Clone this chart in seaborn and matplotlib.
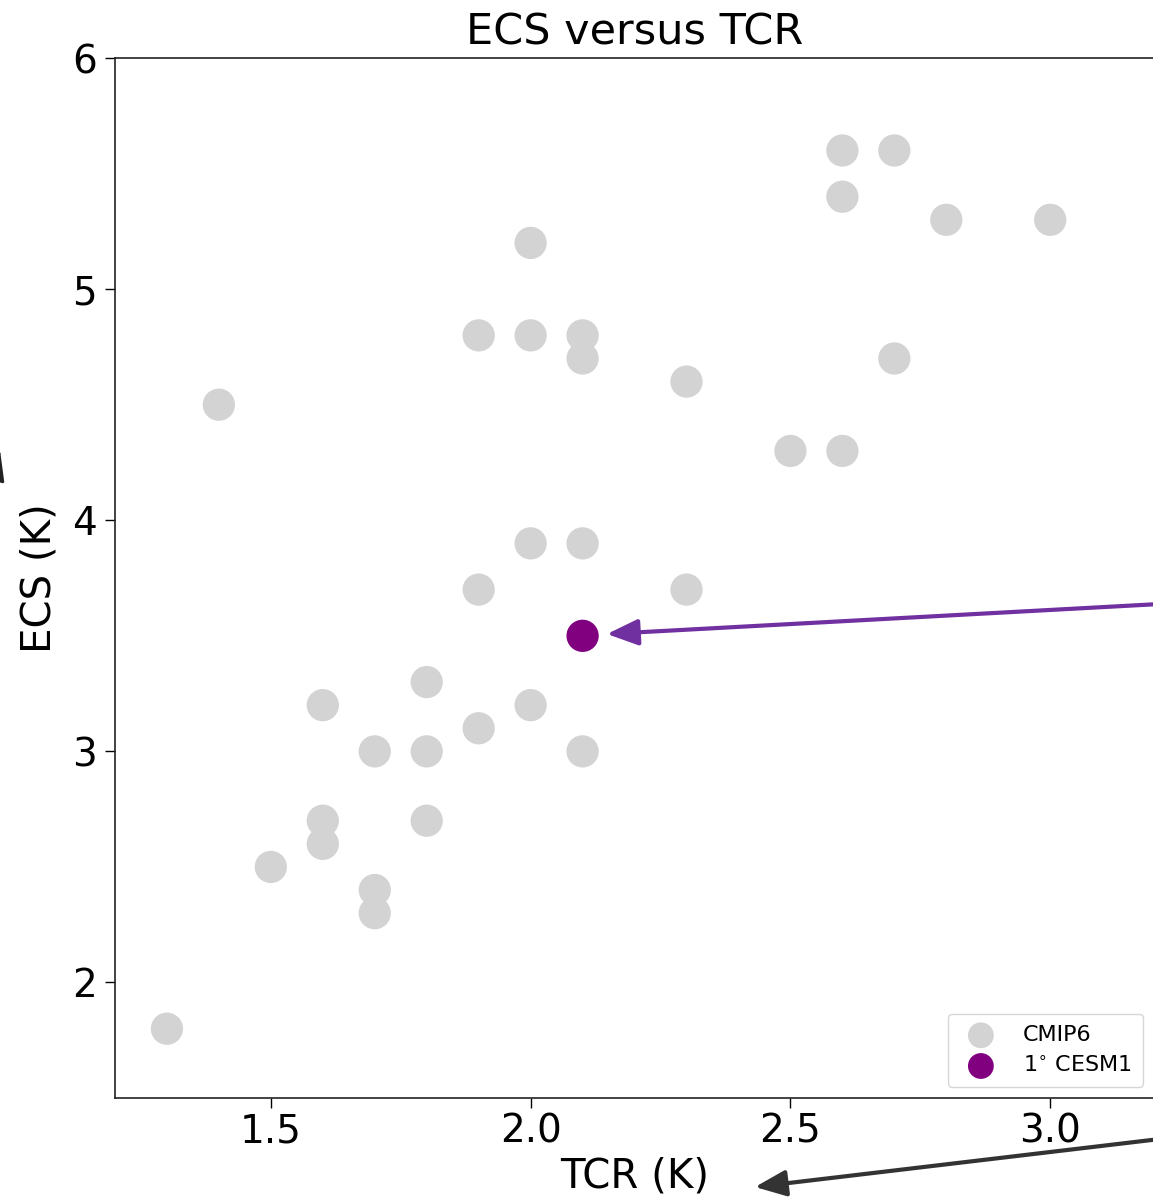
import matplotlib
matplotlib.use("Agg")
import matplotlib.pyplot as plt
import seaborn as sns
import pandas as pd

# CMIP6 models: TCR (K) and ECS (K)
cmip6_tcr = [1.3, 1.4, 1.5, 1.6, 1.6, 1.6, 1.7, 1.7, 1.7, 1.8, 1.8, 1.8,
             1.9, 1.9, 1.9, 2.0, 2.0, 2.0, 2.0, 2.1, 2.1, 2.1, 2.1,
             2.3, 2.3, 2.5, 2.6, 2.6, 2.6, 2.7, 2.7, 2.8, 3.0]
cmip6_ecs = [1.8, 4.5, 2.5, 3.2, 2.7, 2.6, 3.0, 2.4, 2.3, 3.3, 3.0, 2.7,
             4.8, 3.7, 3.1, 5.2, 4.8, 3.9, 3.2, 4.8, 4.7, 3.9, 3.0,
             4.6, 3.7, 4.3, 5.6, 5.4, 4.3, 5.6, 4.7, 5.3, 5.3]
cesm_tcr = [2.1]
cesm_ecs = [3.5]

sns.set_style("ticks")
plt.rcParams['font.family'] = ['DejaVu Sans']
plt.rcParams['text.color'] = 'black'
plt.rcParams['axes.labelcolor'] = 'black'

fig = plt.figure(figsize=(11.53, 12.04), dpi=100)
ax = fig.add_axes([0.0997, 0.088, 0.9013, 0.8638])

df1 = pd.DataFrame({"TCR": cmip6_tcr, "ECS": cmip6_ecs})
df2 = pd.DataFrame({"TCR": cesm_tcr, "ECS": cesm_ecs})
sns.scatterplot(data=df1, x="TCR", y="ECS", ax=ax, color="lightgray", s=540,
                edgecolor="none", label="CMIP6")
sns.scatterplot(data=df2, x="TCR", y="ECS", ax=ax, color="purple", s=540,
                edgecolor="none", label="1$^{\\circ}$ CESM1")

ax.set_xlim(1.2, 3.2)
ax.set_ylim(1.5, 6.0)
ax.set_xticks([1.5, 2.0, 2.5, 3.0])
ax.set_yticks([2, 3, 4, 5, 6])
ax.tick_params(labelsize=28, length=7, width=1, colors="black")
ax.tick_params(axis="y", pad=6)
ax.set_xlabel("TCR (K)", fontsize=29, labelpad=4)
ax.set_ylabel("ECS (K)", fontsize=29, labelpad=9)
ax.set_title("ECS versus TCR", fontsize=31, color="black", pad=10)
for sp in ax.spines.values():
    sp.set_color("#222222")
    sp.set_linewidth(1.2)

leg = ax.legend(loc="lower right", fontsize=16, markerscale=0.8,
                frameon=True, borderpad=0.5, handletextpad=0.9,
                labelspacing=0.45)
leg.get_frame().set_edgecolor("#cccccc")

# annotation arrows (figure pixel coordinates)
W, H = 1153, 1204
def fp(x, y):
    return (x / W, 1 - y / H)

style = "-|>,head_length=1.9,head_width=0.8"
ax.annotate("", xy=fp(607, 634), xycoords="figure fraction",
            xytext=fp(1160, 604), textcoords="figure fraction",
            arrowprops=dict(arrowstyle=style, color="#7030a0", lw=3,
                            shrinkA=0, shrinkB=0), annotation_clip=False)
ax.annotate("", xy=fp(755, 1187), xycoords="figure fraction",
            xytext=fp(1160, 1139), textcoords="figure fraction",
            arrowprops=dict(arrowstyle=style, color="#333333", lw=3,
                            shrinkA=0, shrinkB=0), annotation_clip=False)
ax.annotate("", xy=fp(0, 450), xycoords="figure fraction",
            xytext=fp(-30, 560), textcoords="figure fraction",
            arrowprops=dict(arrowstyle=style, color="#222222", lw=2,
                            shrinkA=0, shrinkB=0), annotation_clip=False)

fig.savefig("out.png", dpi=100)
